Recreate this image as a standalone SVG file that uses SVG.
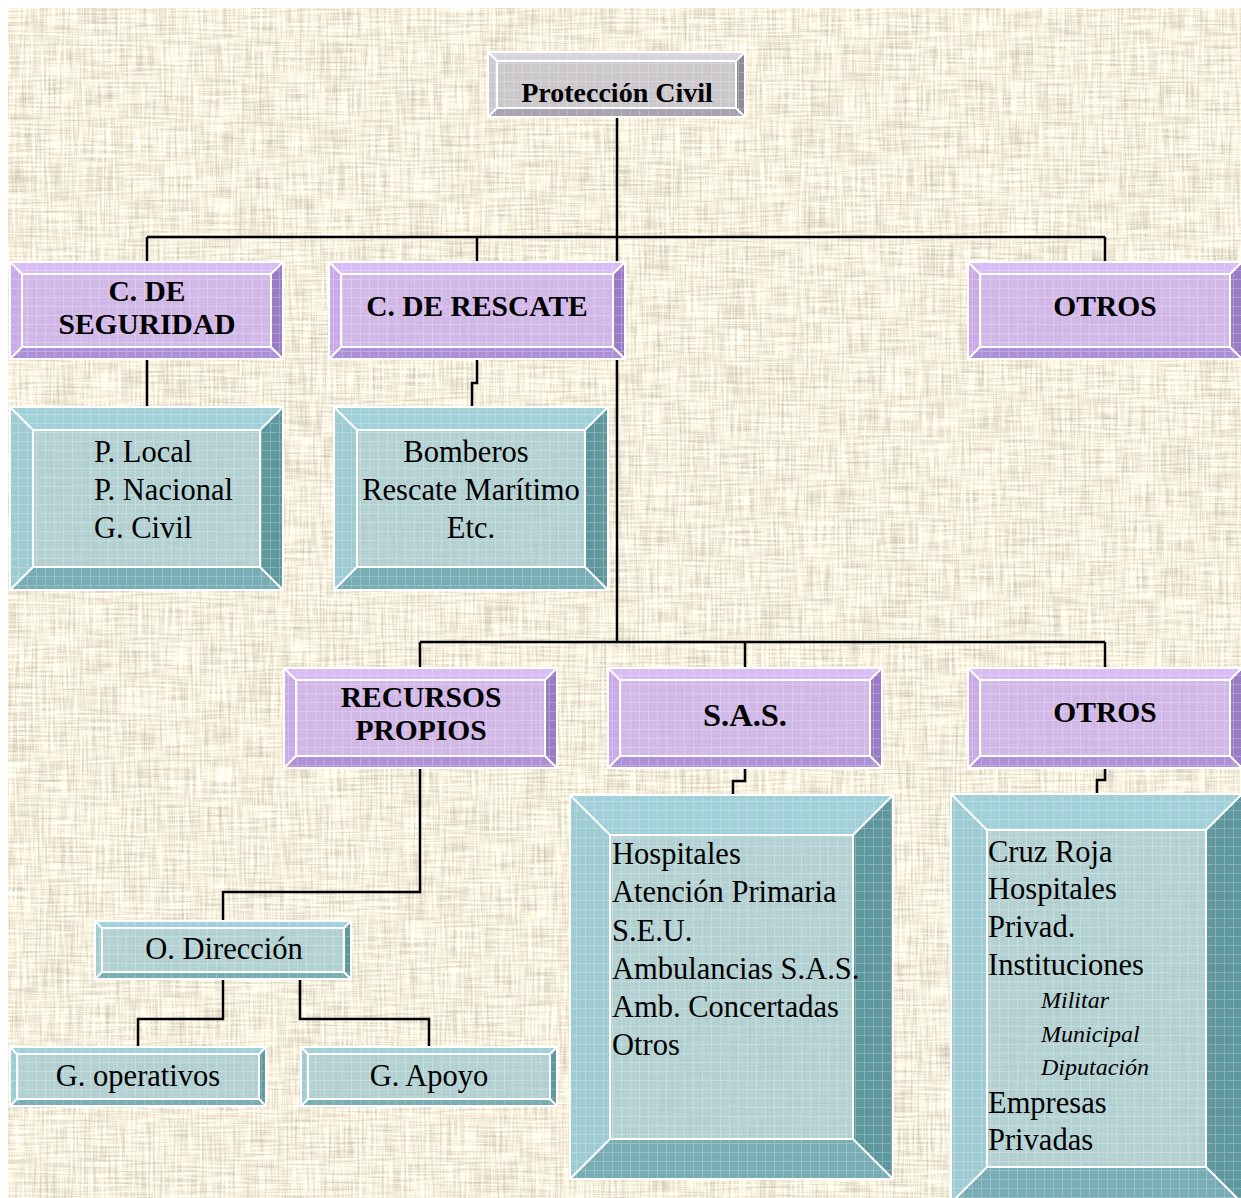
<svg xmlns="http://www.w3.org/2000/svg" width="1241" height="1198" viewBox="0 0 1241 1198">
<defs>
<filter id="tex" x="0" y="0" width="100%" height="100%" filterUnits="objectBoundingBox" color-interpolation-filters="sRGB">
<feTurbulence type="fractalNoise" baseFrequency="0.45 0.025" numOctaves="2" seed="3" result="v"/>
<feTurbulence type="fractalNoise" baseFrequency="0.025 0.45" numOctaves="2" seed="11" result="h"/>
<feComposite in="v" in2="h" operator="arithmetic" k2="0.5" k3="0.5" result="n"/>
<feColorMatrix in="n" type="matrix" values="0.55 0 0 0 0.69  0.55 0 0 0 0.66  0.55 0 0 0 0.59  0 0 0 0 1"/>
</filter>
<pattern id="grid" width="9" height="9" patternUnits="userSpaceOnUse">
<path d="M0,0.5H9M0.5,0V9" stroke="#ffffff" stroke-width="1" opacity=".22"/>
</pattern>
<style>
.pt{fill:#d8bcf4}.pl{fill:#cbaaea}.pr{fill:#9a7cc5}.pb{fill:#ae90d7}.pf{fill:#ccb0e8;fill-opacity:.88}
.tt{fill:#a2d0d8}.tl{fill:#9fcbd3}.tr{fill:#5f979f}.tb{fill:#78adb5}.tf{fill:#a9ccd1;fill-opacity:.86}
.gt{fill:#d6d3db}.gl{fill:#cdc9d1}.gr{fill:#8e8a96}.gb{fill:#a8a4af}.gf{fill:#c6c3ca;fill-opacity:.88}
.grid{fill:url(#grid)}
.w{fill:none;stroke:#ffffff;stroke-width:2}
.hd{font-family:"Liberation Serif","Times New Roman",serif;font-weight:bold;font-size:29.5px;fill:#000;text-anchor:middle}
.tx{font-family:"Liberation Serif","Times New Roman",serif;font-size:30.5px;fill:#000}
.m{text-anchor:middle}
.it{font-style:italic;font-size:24px}
.c{fill:none;stroke:#000;stroke-width:2.5}
</style>
</defs>
<rect width="1241" height="1198" fill="#ffffff"/>
<rect x="8" y="8" width="1233" height="1190" fill="#dcd2be" filter="url(#tex)"/>

<g id="connectors">
<path class="c" d="M617,117V642 M147,237H1105 M147,237V262 M477,237V262 M1105,237V262 M147,359V407 M477,359V383H472V407 M420,642H1105 M420,642V668 M745,642V668 M1105,642V668 M420,768V892H223V921 M745,768V781H733V795 M1105,768V780H1097V794 M223,979V1019H138V1047 M300,979V1019H429V1047"/>
</g>

<g id="proteccion-civil">
<polygon class="gt" points="488,52 745,52 736,61 497,61"/>
<polygon class="gl" points="488,52 497,61 497,108 488,117"/>
<polygon class="gr" points="745,52 745,117 736,108 736,61"/>
<polygon class="gb" points="488,117 745,117 736,108 497,108"/>
<rect class="gf" x="497" y="61" width="239" height="47"/>
<rect class="grid" x="488" y="52" width="257" height="65"/>
<path class="w" d="M488,52H745V117H488Z M497,61H736V108H497Z M488,52L497,61 M745,52L736,61 M745,117L736,108 M488,117L497,108"/>
<text class="hd" x="617" y="102" style="font-size:28px">Protección Civil</text>
</g>

<g id="c-seguridad">
<polygon class="pt" points="10,262 283,262 271,274 22,274"/>
<polygon class="pl" points="10,262 22,274 22,347 10,359"/>
<polygon class="pr" points="283,262 283,359 271,347 271,274"/>
<polygon class="pb" points="10,359 283,359 271,347 22,347"/>
<rect class="pf" x="22" y="274" width="249" height="73"/>
<rect class="grid" x="10" y="262" width="273" height="97"/>
<path class="w" d="M10,262H283V359H10Z M22,274H271V347H22Z M10,262L22,274 M283,262L271,274 M283,359L271,347 M10,359L22,347"/>
<text class="hd" x="147" y="301">C. DE</text>
<text class="hd" x="147" y="334">SEGURIDAD</text>
</g>

<g id="c-rescate">
<polygon class="pt" points="329,262 625,262 613,274 341,274"/>
<polygon class="pl" points="329,262 341,274 341,347 329,359"/>
<polygon class="pr" points="625,262 625,359 613,347 613,274"/>
<polygon class="pb" points="329,359 625,359 613,347 341,347"/>
<rect class="pf" x="341" y="274" width="272" height="73"/>
<rect class="grid" x="329" y="262" width="296" height="97"/>
<path class="w" d="M329,262H625V359H329Z M341,274H613V347H341Z M329,262L341,274 M625,262L613,274 M625,359L613,347 M329,359L341,347"/>
<text class="hd" x="477" y="316">C. DE RESCATE</text>
</g>

<g id="otros-1">
<polygon class="pt" points="968,262 1242,262 1230,274 980,274"/>
<polygon class="pl" points="968,262 980,274 980,347 968,359"/>
<polygon class="pr" points="1242,262 1242,359 1230,347 1230,274"/>
<polygon class="pb" points="968,359 1242,359 1230,347 980,347"/>
<rect class="pf" x="980" y="274" width="250" height="73"/>
<rect class="grid" x="968" y="262" width="274" height="97"/>
<path class="w" d="M968,262H1242V359H968Z M980,274H1230V347H980Z M968,262L980,274 M1242,262L1230,274 M1242,359L1230,347 M968,359L980,347"/>
<text class="hd" x="1105" y="316">OTROS</text>
</g>

<g id="policias">
<polygon class="tt" points="10,407 283,407 260,430 33,430"/>
<polygon class="tl" points="10,407 33,430 33,567 10,590"/>
<polygon class="tr" points="283,407 283,590 260,567 260,430"/>
<polygon class="tb" points="10,590 283,590 260,567 33,567"/>
<rect class="tf" x="33" y="430" width="227" height="137"/>
<rect class="grid" x="10" y="407" width="273" height="183"/>
<path class="w" d="M10,407H283V590H10Z M33,430H260V567H33Z M10,407L33,430 M283,407L260,430 M283,590L260,567 M10,590L33,567"/>
<text class="tx" x="94" y="462">P. Local</text>
<text class="tx" x="94" y="500">P. Nacional</text>
<text class="tx" x="94" y="538">G. Civil</text>
</g>

<g id="bomberos">
<polygon class="tt" points="334,407 608,407 585,430 357,430"/>
<polygon class="tl" points="334,407 357,430 357,567 334,590"/>
<polygon class="tr" points="608,407 608,590 585,567 585,430"/>
<polygon class="tb" points="334,590 608,590 585,567 357,567"/>
<rect class="tf" x="357" y="430" width="228" height="137"/>
<rect class="grid" x="334" y="407" width="274" height="183"/>
<path class="w" d="M334,407H608V590H334Z M357,430H585V567H357Z M334,407L357,430 M608,407L585,430 M608,590L585,567 M334,590L357,567"/>
<text class="tx m" x="466" y="462">Bomberos</text>
<text class="tx m" x="471" y="500">Rescate Marítimo</text>
<text class="tx m" x="471" y="538">Etc.</text>
</g>

<g id="recursos-propios">
<polygon class="pt" points="284,668 557,668 545,680 296,680"/>
<polygon class="pl" points="284,668 296,680 296,756 284,768"/>
<polygon class="pr" points="557,668 557,768 545,756 545,680"/>
<polygon class="pb" points="284,768 557,768 545,756 296,756"/>
<rect class="pf" x="296" y="680" width="249" height="76"/>
<rect class="grid" x="284" y="668" width="273" height="100"/>
<path class="w" d="M284,668H557V768H284Z M296,680H545V756H296Z M284,668L296,680 M557,668L545,680 M557,768L545,756 M284,768L296,756"/>
<text class="hd" x="421" y="707">RECURSOS</text>
<text class="hd" x="421" y="740">PROPIOS</text>
</g>

<g id="sas">
<polygon class="pt" points="608,668 882,668 870,680 620,680"/>
<polygon class="pl" points="608,668 620,680 620,756 608,768"/>
<polygon class="pr" points="882,668 882,768 870,756 870,680"/>
<polygon class="pb" points="608,768 882,768 870,756 620,756"/>
<rect class="pf" x="620" y="680" width="250" height="76"/>
<rect class="grid" x="608" y="668" width="274" height="100"/>
<path class="w" d="M608,668H882V768H608Z M620,680H870V756H620Z M608,668L620,680 M882,668L870,680 M882,768L870,756 M608,768L620,756"/>
<text class="hd" x="745" y="726" style="font-size:32.5px">S.A.S.</text>
</g>

<g id="otros-2">
<polygon class="pt" points="968,668 1242,668 1230,680 980,680"/>
<polygon class="pl" points="968,668 980,680 980,756 968,768"/>
<polygon class="pr" points="1242,668 1242,768 1230,756 1230,680"/>
<polygon class="pb" points="968,768 1242,768 1230,756 980,756"/>
<rect class="pf" x="980" y="680" width="250" height="76"/>
<rect class="grid" x="968" y="668" width="274" height="100"/>
<path class="w" d="M968,668H1242V768H968Z M980,680H1230V756H980Z M968,668L980,680 M1242,668L1230,680 M1242,768L1230,756 M968,768L980,756"/>
<text class="hd" x="1105" y="722">OTROS</text>
</g>

<g id="hospitales">
<polygon class="tt" points="570,795 893,795 853,835 610,835"/>
<polygon class="tl" points="570,795 610,835 610,1139 570,1179"/>
<polygon class="tr" points="893,795 893,1179 853,1139 853,835"/>
<polygon class="tb" points="570,1179 893,1179 853,1139 610,1139"/>
<rect class="tf" x="610" y="835" width="243" height="304"/>
<rect class="grid" x="570" y="795" width="323" height="384"/>
<path class="w" d="M570,795H893V1179H570Z M610,835H853V1139H610Z M570,795L610,835 M893,795L853,835 M893,1179L853,1139 M570,1179L610,1139"/>
<text class="tx" x="612" y="864">Hospitales</text>
<text class="tx" x="612" y="902">Atención Primaria</text>
<text class="tx" x="612" y="941">S.E.U.</text>
<text class="tx" x="612" y="979">Ambulancias S.A.S.</text>
<text class="tx" x="612" y="1017">Amb. Concertadas</text>
<text class="tx" x="612" y="1055">Otros</text>
</g>

<g id="cruz-roja">
<polygon class="tt" points="951,794 1242,794 1206,830 987,830"/>
<polygon class="tl" points="951,794 987,830 987,1167 951,1203"/>
<polygon class="tr" points="1242,794 1242,1203 1206,1167 1206,830"/>
<polygon class="tb" points="951,1203 1242,1203 1206,1167 987,1167"/>
<rect class="tf" x="987" y="830" width="219" height="337"/>
<rect class="grid" x="951" y="794" width="291" height="409"/>
<path class="w" d="M951,794H1242V1203H951Z M987,830H1206V1167H987Z M951,794L987,830 M1242,794L1206,830 M1242,1203L1206,1167 M951,1203L987,1167"/>
<text class="tx" x="988" y="862">Cruz Roja</text>
<text class="tx" x="988" y="899">Hospitales</text>
<text class="tx" x="988" y="937">Privad.</text>
<text class="tx" x="988" y="975">Instituciones</text>
<text class="tx it" x="1041" y="1008">Militar</text>
<text class="tx it" x="1041" y="1042">Municipal</text>
<text class="tx it" x="1041" y="1075">Diputación</text>
<text class="tx" x="988" y="1113">Empresas</text>
<text class="tx" x="988" y="1150">Privadas</text>
</g>

<g id="o-direccion">
<polygon class="tt" points="95,921 351,921 344,928 102,928"/>
<polygon class="tl" points="95,921 102,928 102,972 95,979"/>
<polygon class="tr" points="351,921 351,979 344,972 344,928"/>
<polygon class="tb" points="95,979 351,979 344,972 102,972"/>
<rect class="tf" x="102" y="928" width="242" height="44"/>
<rect class="grid" x="95" y="921" width="256" height="58"/>
<path class="w" d="M95,921H351V979H95Z M102,928H344V972H102Z M95,921L102,928 M351,921L344,928 M351,979L344,972 M95,979L102,972"/>
<text class="tx m" x="224" y="959">O. Dirección</text>
</g>

<g id="g-operativos">
<polygon class="tt" points="10,1047 266,1047 259,1054 17,1054"/>
<polygon class="tl" points="10,1047 17,1054 17,1099 10,1106"/>
<polygon class="tr" points="266,1047 266,1106 259,1099 259,1054"/>
<polygon class="tb" points="10,1106 266,1106 259,1099 17,1099"/>
<rect class="tf" x="17" y="1054" width="242" height="45"/>
<rect class="grid" x="10" y="1047" width="256" height="59"/>
<path class="w" d="M10,1047H266V1106H10Z M17,1054H259V1099H17Z M10,1047L17,1054 M266,1047L259,1054 M266,1106L259,1099 M10,1106L17,1099"/>
<text class="tx m" x="138" y="1086">G. operativos</text>
</g>

<g id="g-apoyo">
<polygon class="tt" points="301,1047 557,1047 550,1054 308,1054"/>
<polygon class="tl" points="301,1047 308,1054 308,1099 301,1106"/>
<polygon class="tr" points="557,1047 557,1106 550,1099 550,1054"/>
<polygon class="tb" points="301,1106 557,1106 550,1099 308,1099"/>
<rect class="tf" x="308" y="1054" width="242" height="45"/>
<rect class="grid" x="301" y="1047" width="256" height="59"/>
<path class="w" d="M301,1047H557V1106H301Z M308,1054H550V1099H308Z M301,1047L308,1054 M557,1047L550,1054 M557,1106L550,1099 M301,1106L308,1099"/>
<text class="tx m" x="429" y="1086">G. Apoyo</text>
</g>
</svg>
